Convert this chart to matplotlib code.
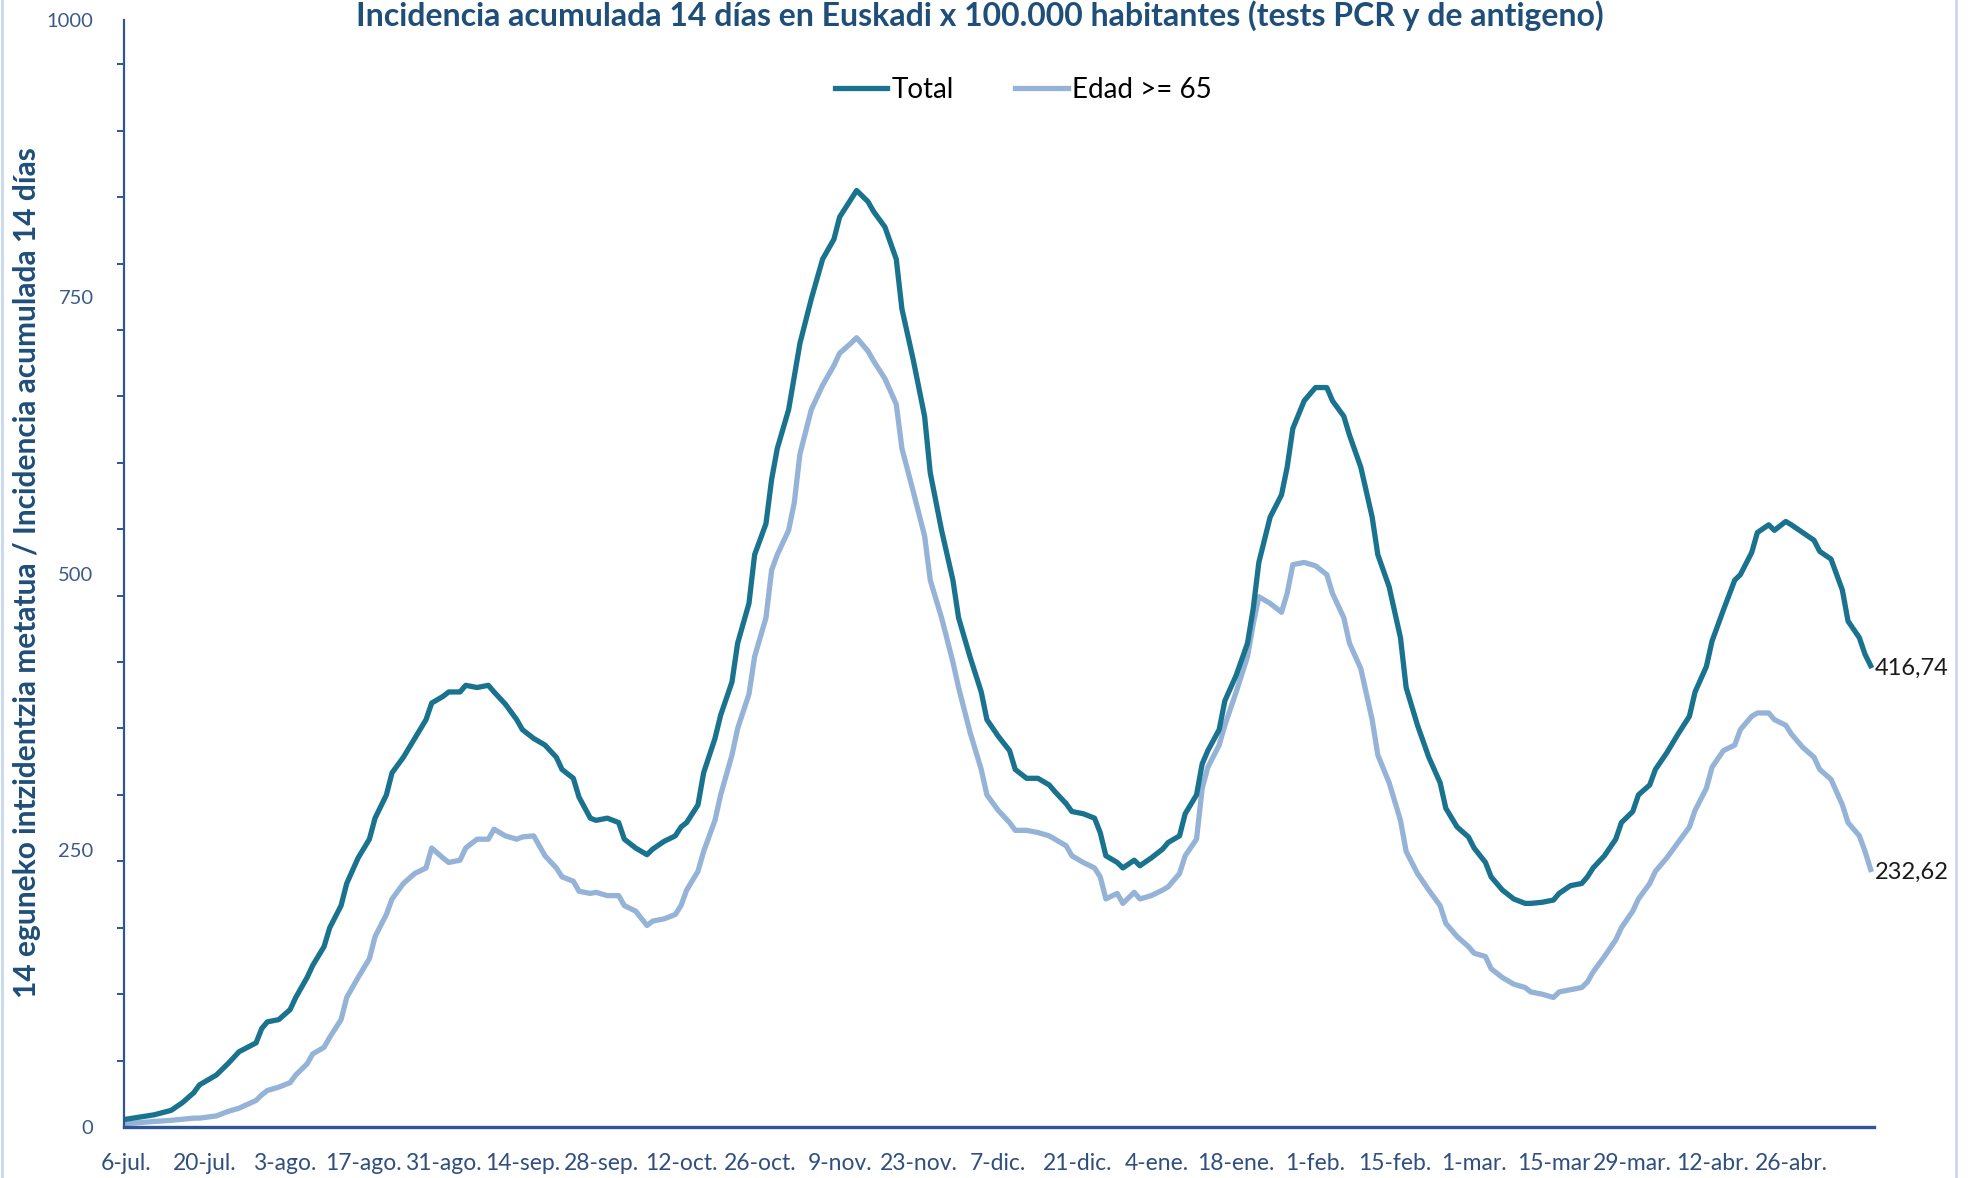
import numpy as np
import matplotlib.pyplot as plt
from matplotlib.lines import Line2D

# day offsets from 6-jul-2020 and 14-day cumulative incidence per 100.000
days = [0, 5, 8, 10, 12, 13, 16, 18, 20, 23, 24, 25, 27, 29, 30, 32, 33, 35, 36, 38,
        39, 41, 43, 44, 46, 47, 49, 51, 53, 54, 56, 57, 59, 60, 62, 64, 65, 67, 69, 70,
        72, 74, 76, 77, 79, 80, 82, 83, 85, 87, 88, 90, 92, 93, 95, 97, 98, 99, 101, 102,
        104, 105, 107, 108, 110, 111, 113, 114, 115, 117, 118, 119, 121, 123, 125, 126, 128, 129, 131, 132,
        134, 136, 137, 139, 141, 142, 144, 146, 147, 149, 151, 152, 154, 156, 157, 159, 161, 163, 164, 166,
        167, 169, 171, 172, 173, 175, 176, 178, 179, 181, 183, 184, 186, 187, 189, 190, 191, 193, 194, 196,
        198, 199, 200, 202, 204, 205, 206, 208, 210, 212, 213, 215, 216, 218, 220, 221, 223, 225, 226, 228,
        230, 232, 233, 235, 237, 238, 240, 241, 243, 245, 247, 248, 250, 252, 253, 255, 257, 258, 259, 261,
        263, 264, 266, 267, 269, 270, 272, 274, 276, 277, 279, 280, 282, 284, 285, 287, 288, 290, 291, 293,
        294, 296, 298, 299, 301, 303, 304, 306, 307, 308]

total = [7, 11, 15, 22, 31, 38, 47, 57, 68, 76, 89, 95, 97, 106, 117, 135, 146, 163, 180, 200,
         220, 243, 260, 279, 300, 320, 334, 351, 368, 383, 389, 393, 393, 399, 397, 399, 393, 382, 368, 359,
         351, 345, 334, 323, 315, 298, 279, 277, 279, 275, 260, 252, 246, 251, 258, 263, 271, 275, 291, 320,
         351, 372, 402, 437, 473, 517, 545, 585, 613, 648, 678, 708, 748, 784, 802, 822, 838, 846, 836, 827,
         813, 784, 739, 693, 642, 591, 539, 494, 460, 425, 393, 368, 353, 340, 323, 315, 315, 309, 303, 292,
         285, 283, 279, 266, 245, 239, 234, 241, 236, 243, 251, 257, 263, 283, 300, 328, 340, 359, 385, 408,
         437, 468, 510, 551, 571, 596, 631, 656, 668, 668, 656, 642, 625, 596, 551, 517, 488, 442, 397, 363,
         334, 311, 288, 271, 262, 252, 239, 226, 214, 206, 202, 202, 203, 205, 211, 218, 220, 226, 234, 245,
         260, 275, 285, 300, 309, 323, 338, 355, 371, 393, 416, 439, 467, 494, 499, 519, 537, 544, 539, 547,
         544, 537, 530, 520, 513, 485, 457, 442, 427, 416.74]

edad65 = [3, 5, 6, 7, 8, 8, 10, 14, 17, 24, 29, 33, 36, 40, 47, 57, 66, 72, 81, 97,
          117, 135, 152, 172, 192, 206, 220, 229, 234, 252, 243, 239, 241, 252, 260, 260, 269, 263, 260, 262,
          263, 245, 234, 226, 222, 213, 211, 212, 209, 209, 200, 195, 182, 186, 188, 192, 200, 214, 231, 249,
          277, 300, 336, 360, 391, 425, 460, 503, 517, 539, 564, 608, 648, 670, 688, 699, 708, 713, 701, 692,
          676, 653, 613, 574, 534, 494, 460, 420, 397, 357, 323, 300, 286, 275, 268, 268, 266, 263, 260, 254,
          245, 239, 234, 226, 206, 211, 202, 212, 206, 209, 214, 217, 229, 245, 260, 306, 325, 345, 363, 393,
          425, 454, 479, 473, 465, 482, 508, 510, 507, 499, 482, 460, 437, 414, 368, 336, 311, 277, 249, 229,
          214, 200, 184, 172, 163, 157, 154, 143, 135, 129, 126, 122, 120, 117, 122, 124, 126, 131, 140, 154,
          169, 180, 195, 206, 220, 231, 243, 257, 271, 286, 306, 325, 340, 345, 359, 371, 374, 374, 368, 363,
          355, 343, 334, 323, 314, 291, 275, 263, 249, 232.62]

tick_labels = ['6-jul.', '20-jul.', '3-ago.', '17-ago.', '31-ago.', '14-sep.', '28-sep.',
               '12-oct.', '26-oct.', '9-nov.', '23-nov.', '7-dic.', '21-dic.', '4-ene.',
               '18-ene.', '1-feb.', '15-feb.', '1-mar.', '15-mar', '29-mar.', '12-abr.', '26-abr.']
tick_days = np.arange(len(tick_labels)) * 14

navy = '#2F5597'
title_col = '#1F4E79'

plt.rcParams['font.family'] = ['Lato', 'DejaVu Sans']

fig = plt.figure(figsize=(19.79, 11.78), dpi=100)
ax = fig.add_axes([0.0627, 0.0433, 0.884, 0.9397])

ax.plot(days, edad65, color='#95B3D7', lw=3.8, label='Edad >= 65')
ax.plot(days, total, color='#19738F', lw=3.8, label='Total')

ax.set_xlim(-0.3, 308.5)
ax.set_ylim(0, 1000)

for s in ['top', 'right']:
    ax.spines[s].set_visible(False)
ax.spines['left'].set_color(navy)
ax.spines['left'].set_linewidth(1.6)
ax.spines['bottom'].set_color(navy)
ax.spines['bottom'].set_linewidth(2.4)

ax.set_xticks(tick_days)
ax.set_xticklabels(tick_labels, fontsize=16.5, color='#2F4F7F')
ax.tick_params(axis='x', length=0, pad=19)

ax.set_yticks([0, 250, 500, 750, 1000])
ax.set_yticks(np.arange(0, 1000, 60), minor=True)
ax.tick_params(axis='y', which='major', length=0, pad=22, labelsize=14.5, labelcolor='#3B5A8A')
ax.tick_params(axis='y', which='minor', length=5, width=1.4, color=navy, direction='out')

for vals in [total, edad65]:
    ax.annotate(f'{vals[-1]:.2f}'.replace('.', ','), xy=(days[-1], vals[-1]),
                xytext=(3, -2), textcoords='offset points', ha='left', va='center',
                fontsize=17, color='#1a1a1a', annotation_clip=False)

handles, labels = ax.get_legend_handles_labels()
fig.legend(handles[::-1], labels[::-1], loc='center', bbox_to_anchor=(0.517, 0.924), ncol=2,
           frameon=False, fontsize=20, handlelength=1.9, handletextpad=0.15, columnspacing=2.2)

fig.text(0.495, 0.987, 'Incidencia acumulada 14 días en Euskadi x 100.000 habitantes (tests PCR y de antigeno)',
         ha='center', va='center', fontsize=23, fontweight='bold', color=title_col)
fig.text(0.0135, 0.514, '14 eguneko intzidentzia metatua / Incidencia acumulada 14 días',
         rotation=90, ha='center', va='center', fontsize=21.5, fontweight='bold', color=title_col)

fig.add_artist(Line2D([0.9885, 0.9885], [0, 1], transform=fig.transFigure, color='#C9D8EF', lw=2))
fig.add_artist(Line2D([0.001, 0.001], [0, 1], transform=fig.transFigure, color='#C9D8EF', lw=2))

fig.savefig('out.png', dpi=100)
